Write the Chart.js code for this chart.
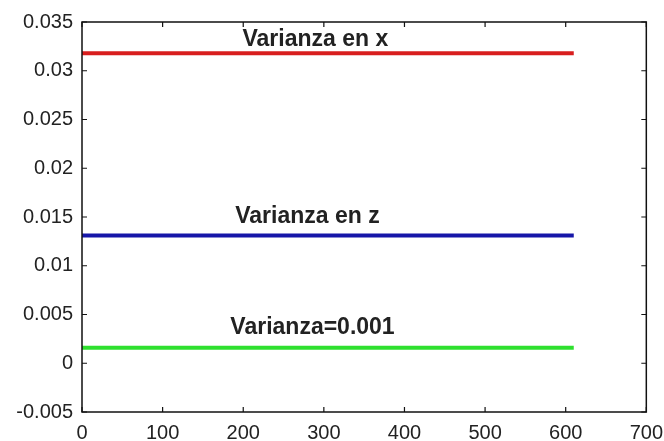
<!DOCTYPE html>
<html>
<head>
<meta charset="utf-8">
<script src="https://cdn.jsdelivr.net/npm/chart.js@4"></script>
<style>
  html, body { margin: 0; padding: 0; background: #fff; }
  #wrap { width: 664px; height: 441px; }
</style>
</head>
<body>
<div id="wrap"><canvas id="chart"></canvas></div>
<script>
// Series: each is a flat line from x=0 to x=610
const seriesNames = ["Varianza en x", "Varianza en z", "Varianza=0.001"];
const lineX = [0, 610];
const varX = [0.0318, 0.0318];
const varZ = [0.0131, 0.0131];
const varRef = [0.0016, 0.0016];

// Text annotations (data coordinates)
const labelText = ["Varianza en x", "Varianza en z", "Varianza=0.001"];
const labelX = [199, 190, 184];
const labelY = [0.0332, 0.0150, 0.0036];

// Axis ranges
const xMin = 0, xMax = 700, xStep = 100;
const yMin = -0.005, yMax = 0.035, yStep = 0.005;

const colors = ["#d81e1e", "#1616a8", "#2ee02e"];

function pts(ys) {
  return lineX.map((x, i) => ({ x: x, y: ys[i] }));
}

// Box around plot area + inward ticks on all four sides (matlab style)
const boxPlugin = {
  id: "box",
  afterDatasetsDraw(chart) {
    const ctx = chart.ctx;
    const a = chart.chartArea;
    const xs = chart.scales.x, ys = chart.scales.y;
    const len = 5;
    ctx.save();
    ctx.strokeStyle = "#111";
    ctx.lineWidth = 1.5;
    ctx.strokeRect(a.left, a.top, a.right - a.left, a.bottom - a.top);
    ctx.lineWidth = 1.2;
    ctx.beginPath();
    xs.ticks.forEach(t => {
      const px = xs.getPixelForValue(t.value);
      ctx.moveTo(px, a.bottom); ctx.lineTo(px, a.bottom - len);
      ctx.moveTo(px, a.top); ctx.lineTo(px, a.top + len);
    });
    ys.ticks.forEach(t => {
      const py = ys.getPixelForValue(t.value);
      ctx.moveTo(a.left, py); ctx.lineTo(a.left + len, py);
      ctx.moveTo(a.right, py); ctx.lineTo(a.right - len, py);
    });
    ctx.stroke();

    // text labels
    ctx.fillStyle = "#222";
    ctx.font = "bold 23px 'Liberation Sans', Arial, sans-serif";
    ctx.textAlign = "left";
    ctx.textBaseline = "middle";
    labelText.forEach((s, i) => {
      ctx.fillText(s, xs.getPixelForValue(labelX[i]), ys.getPixelForValue(labelY[i]));
    });
    ctx.restore();
  }
};

new Chart(document.getElementById("chart"), {
  type: "line",
  data: {
    datasets: [
      { label: seriesNames[0], data: pts(varX), borderColor: colors[0] },
      { label: seriesNames[1], data: pts(varZ), borderColor: colors[1] },
      { label: seriesNames[2], data: pts(varRef), borderColor: colors[2] }
    ].map(d => Object.assign(d, { borderWidth: 4, pointRadius: 0, fill: false, borderCapStyle: "butt" }))
  },
  options: {
    responsive: true,
    maintainAspectRatio: false,
    animation: false,
    layout: { padding: { top: 22, right: 15, left: 0, bottom: 0 } },
    plugins: { legend: { display: false }, tooltip: { enabled: false } },
    scales: {
      x: {
        type: "linear",
        min: xMin, max: xMax,
        grid: { display: false },
        border: { display: false },
        afterFit(scale) { scale.height = 29; },
        ticks: {
          stepSize: xStep,
          color: "#222",
          padding: 1,
          maxRotation: 0,
          font: { family: "'Liberation Sans', Arial, sans-serif", size: 20 },
          callback: v => String(v)
        }
      },
      y: {
        type: "linear",
        min: yMin, max: yMax,
        grid: { display: false },
        border: { display: false },
        afterFit(scale) { scale.width = 82; },
        ticks: {
          stepSize: yStep,
          color: "#222",
          padding: 1,
          font: { family: "'Liberation Sans', Arial, sans-serif", size: 20 },
          callback: v => String(parseFloat(v.toFixed(3)))
        }
      }
    }
  },
  plugins: [boxPlugin]
});
</script>
</body>
</html>
